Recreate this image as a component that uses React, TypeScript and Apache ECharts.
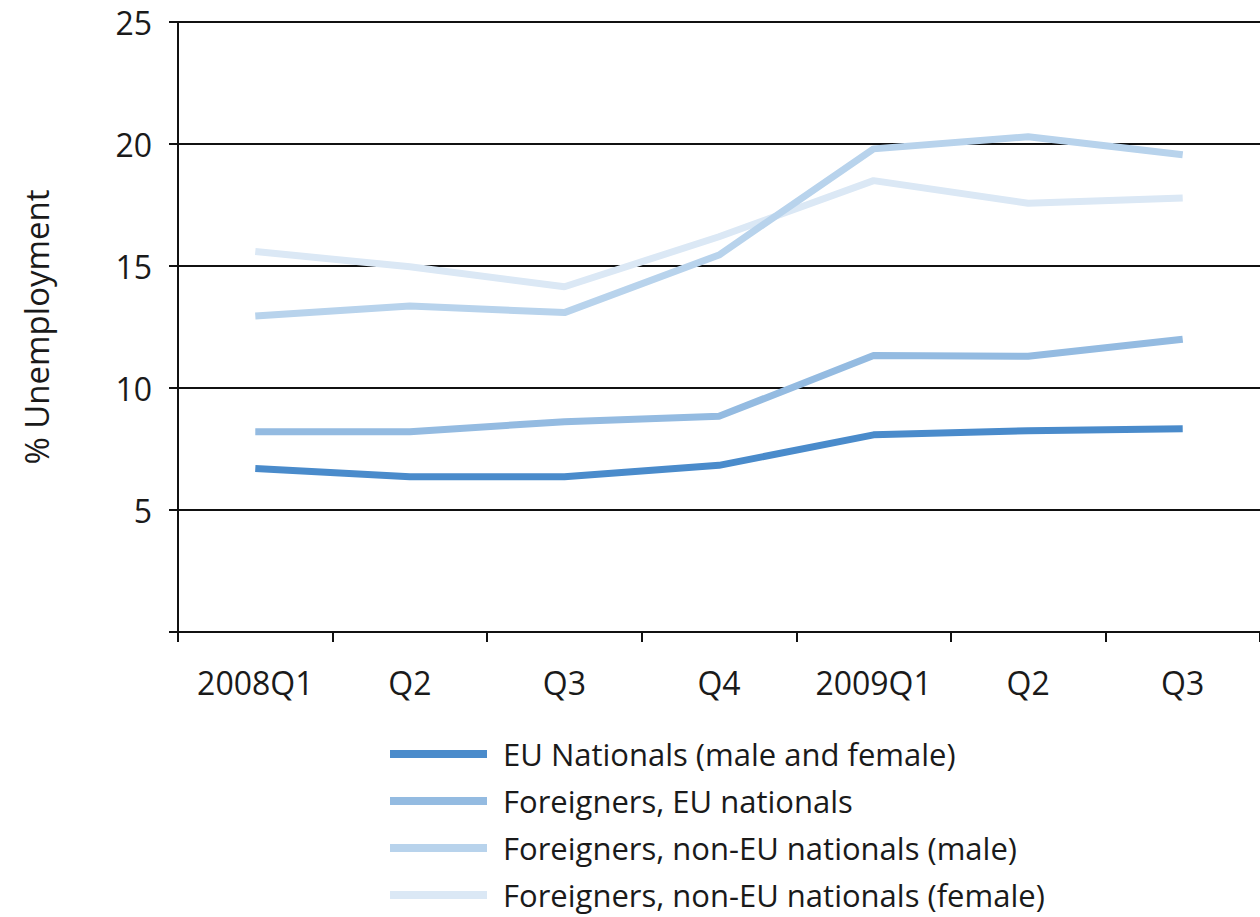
import React, { useEffect, useRef } from "react";
import * as echarts from "echarts";

const categories = ["2008Q1", "Q2", "Q3", "Q4", "2009Q1", "Q2", "Q3"];
const seriesNames = [
  "EU Nationals (male and female)",
  "Foreigners, EU nationals",
  "Foreigners, non-EU nationals (male)",
  "Foreigners, non-EU nationals (female)",
];
const euNationals = [6.7, 6.36, 6.36, 6.83, 8.08, 8.25, 8.33];
const foreignersEU = [8.21, 8.21, 8.62, 8.84, 11.33, 11.3, 12.0];
const nonEUMale = [12.95, 13.36, 13.09, 15.45, 19.8, 20.3, 19.56];
const nonEUFemale = [15.59, 14.97, 14.15, 16.2, 18.5, 17.57, 17.79];
const seriesValues = [euNationals, foreignersEU, nonEUMale, nonEUFemale];
const colors = ["#4a8bcb", "#94bbe1", "#b8d3ec", "#dbe8f5"];
const yTicks = [0, 5, 10, 15, 20, 25];

export default function App() {
  const ref = useRef<HTMLDivElement>(null);
  useEffect(() => {
    if (!ref.current) return;
    const chart = echarts.init(ref.current, null, { renderer: "svg" });
    const font = "'Open Sans', 'Noto Sans', sans-serif";
    chart.setOption({
      animation: false,
      backgroundColor: "#ffffff",
      textStyle: { fontFamily: font },
      grid: { left: 178, top: 22, bottom: 285, right: -8, containLabel: false },
      legend: {
        orient: "vertical",
        left: 390,
        top: 738,
        padding: 0,
        itemWidth: 97,
        itemHeight: 8,
        itemGap: 15,
        icon: "rect",
        data: seriesNames,
        textStyle: {
          fontFamily: font,
          fontSize: 31,
          color: "#1a1a1a",
          lineHeight: 32,
          padding: [0, 0, 0, 11],
        },
      },
      xAxis: {
        type: "category",
        data: categories,
        boundaryGap: true,
        axisLine: { show: true, lineStyle: { color: "#111", width: 2 } },
        axisTick: { show: true, length: 10, interval: 0, lineStyle: { color: "#111", width: 2 } },
        axisLabel: { interval: 0, fontSize: 32, color: "#1a1a1a", margin: 34, fontFamily: font },
        splitLine: { show: false },
      },
      yAxis: {
        type: "value",
        min: yTicks[0],
        max: yTicks[yTicks.length - 1],
        interval: 5,
        name: "% Unemployment",
        nameLocation: "middle",
        nameGap: 125,
        nameTextStyle: { fontSize: 33, color: "#1a1a1a", fontFamily: font },
        axisLine: { show: true, lineStyle: { color: "#111", width: 2 } },
        axisTick: { show: true, length: 9, lineStyle: { color: "#111", width: 2 } },
        axisLabel: {
          fontSize: 32,
          color: "#1a1a1a",
          margin: 26,
          fontFamily: font,
          formatter: (v: number) => (v === 0 ? "" : String(v)),
        },
        splitLine: { show: true, lineStyle: { color: "#111", width: 2 } },
      },
      series: seriesNames.map((name, i) => ({
        name,
        type: "line",
        data: seriesValues[i],
        symbol: "none",
        z: i === 2 ? 5 : 3,
        color: colors[i],
        lineStyle: { color: colors[i], width: 7 },
        itemStyle: { color: colors[i] },
      })),
    });
    return () => chart.dispose();
  }, []);
  return (
    <div
      ref={ref}
      style={{ position: "absolute", left: 0, top: 0, width: 1260, height: 917 }}
    />
  );
}
